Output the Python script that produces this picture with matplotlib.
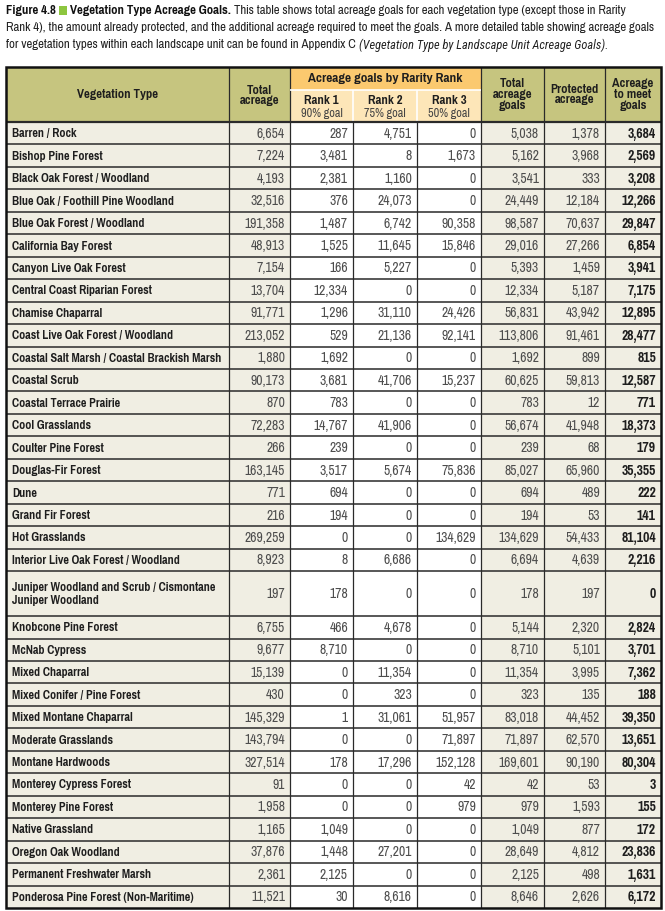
import matplotlib
matplotlib.use("Agg")
import matplotlib.pyplot as plt
from matplotlib import font_manager
from matplotlib.patches import Rectangle

# ---------------- data ----------------
veg_types = [
    "Barren / Rock", "Bishop Pine Forest", "Black Oak Forest / Woodland",
    "Blue Oak / Foothill Pine Woodland", "Blue Oak Forest / Woodland",
    "California Bay Forest", "Canyon Live Oak Forest", "Central Coast Riparian Forest",
    "Chamise Chaparral", "Coast Live Oak Forest / Woodland",
    "Coastal Salt Marsh / Coastal Brackish Marsh", "Coastal Scrub",
    "Coastal Terrace Prairie", "Cool Grasslands", "Coulter Pine Forest",
    "Douglas-Fir Forest", "Dune", "Grand Fir Forest", "Hot Grasslands",
    "Interior Live Oak Forest / Woodland",
    "Juniper Woodland and Scrub / Cismontane\nJuniper Woodland",
    "Knobcone Pine Forest", "McNab Cypress", "Mixed Chaparral",
    "Mixed Conifer / Pine Forest", "Mixed Montane Chaparral", "Moderate Grasslands",
    "Montane Hardwoods", "Monterey Cypress Forest", "Monterey Pine Forest",
    "Native Grassland", "Oregon Oak Woodland", "Permanent Freshwater Marsh",
    "Ponderosa Pine Forest (Non-Maritime)",
]
total_acreage = [6654, 7224, 4193, 32516, 191358, 48913, 7154, 13704, 91771, 213052,
                 1880, 90173, 870, 72283, 266, 163145, 771, 216, 269259, 8923, 197,
                 6755, 9677, 15139, 430, 145329, 143794, 327514, 91, 1958, 1165,
                 37876, 2361, 11521]
rank1 = [287, 3481, 2381, 376, 1487, 1525, 166, 12334, 1296, 529, 1692, 3681, 783,
         14767, 239, 3517, 694, 194, 0, 8, 178, 466, 8710, 0, 0, 1, 0, 178, 0, 0,
         1049, 1448, 2125, 30]
rank2 = [4751, 8, 1160, 24073, 6742, 11645, 5227, 0, 31110, 21136, 0, 41706, 0,
         41906, 0, 5674, 0, 0, 0, 6686, 0, 4678, 0, 11354, 323, 31061, 0, 17296, 0,
         0, 0, 27201, 0, 8616]
rank3 = [0, 1673, 0, 0, 90358, 15846, 0, 0, 24426, 92141, 0, 15237, 0, 0, 0, 75836,
         0, 0, 134629, 0, 0, 0, 0, 0, 0, 51957, 71897, 152128, 42, 979, 0, 0, 0, 0]
total_goals = [5038, 5162, 3541, 24449, 98587, 29016, 5393, 12334, 56831, 113806,
               1692, 60625, 783, 56674, 239, 85027, 694, 194, 134629, 6694, 178,
               5144, 8710, 11354, 323, 83018, 71897, 169601, 42, 979, 1049, 28649,
               2125, 8646]
protected = [1378, 3968, 333, 12184, 70637, 27266, 1459, 5187, 43942, 91461, 899,
             59813, 12, 41948, 68, 65960, 489, 53, 54433, 4639, 197, 2320, 5101,
             3995, 135, 44452, 62570, 90190, 53, 1593, 877, 4812, 498, 2626]
to_meet = [3684, 2569, 3208, 12266, 29847, 6854, 3941, 7175, 12895, 28477, 815,
           12587, 771, 18373, 179, 35355, 222, 141, 81104, 2216, 0, 2824, 3701,
           7362, 188, 39350, 13651, 80304, 3, 155, 172, 23836, 1631, 6172]

title_bold = "Figure 4.8"
title_name = "Vegetation Type Acreage Goals."
caption_lines = [
    "This table shows total acreage goals for each vegetation type (except those in Rarity",
    "Rank 4), the amount already protected, and the additional acreage required to meet the goals. A more detailed table showing acreage goals",
    "for vegetation types within each landscape unit can be found in Appendix C",
]
caption_italic = "(Vegetation Type by Landscape Unit Acreage Goals)."

header_labels = ["Vegetation Type", "Total\nacreage", "Total\nacreage\ngoals",
                 "Protected\nacreage", "Acreage\nto meet\ngoals"]
group_label = "Acreage goals by Rarity Rank"
rank_labels = ["Rank 1", "Rank 2", "Rank 3"]
rank_goals = ["90% goal", "75% goal", "50% goal"]

# ---------------- font choice ----------------
def _w(e):
    w = e.weight
    if isinstance(w, str):
        return 700 if "bold" in w.lower() else 400
    return int(w)

def pick_font(cands, need_italic=False):
    entries = font_manager.fontManager.ttflist
    for cand in cands:
        fam = [e for e in entries if e.name == cand]
        up = [_w(e) for e in fam if e.style == "normal"]
        it = [e for e in fam if e.style == "italic"]
        if need_italic:
            if it and up:
                return cand
        elif any(w >= 650 for w in up) and any(w <= 450 for w in up):
            return cand
    return "Liberation Sans"

FONT = pick_font(["Liberation Sans Narrow", "Pragati Narrow", "PT Sans Narrow",
                  "Roboto Condensed", "Archivo Narrow", "Fira Sans Condensed",
                  "Barlow Semi Condensed", "Asap Condensed", "IBM Plex Sans Condensed"])
ITFONT = pick_font(["Liberation Sans Narrow", "Roboto Condensed", "Archivo Narrow",
                    "Fira Sans Condensed", "Barlow Semi Condensed", "Asap Condensed",
                    "IBM Plex Sans Condensed", "Liberation Sans"], need_italic=True)
plt.rcParams['font.family'] = [FONT, 'DejaVu Sans']

OLIVE = "#c6c57f"
ORANGE = "#fbc96f"
LIGHT_ORANGE = "#fde6b8"
BEIGE = "#f0eee3"
WHITE = "#ffffff"
LINE = "#2a2a2a"
NUM_COLOR = "#4d4d4d"
TXT = "#1e1e1e"

W, H = 665, 911
fig = plt.figure(figsize=(W / 100, H / 100), dpi=100)
ax = fig.add_axes([0, 0, 1, 1])
ax.set_xlim(0, W)
ax.set_ylim(H, 0)
ax.axis("off")
renderer = fig.canvas.get_renderer()

def width_of(s, fs, **kw):
    t = ax.text(0, 0, s, fontsize=fs, **kw)
    w = t.get_window_extent(renderer).width
    t.remove()
    return w

col_x = [6, 229, 290, 353, 417, 481, 544, 605, 661]
top = 67
group_bottom = 90
header_bottom = 122
table_bottom = 908

units = [name.count("\n") + 1 for name in veg_types]
unit_h = (table_bottom - header_bottom) / sum(units)
row_edges = [header_bottom]
for u in units:
    row_edges.append(row_edges[-1] + unit_h * u)

col_bg = [BEIGE, BEIGE, WHITE, WHITE, WHITE, BEIGE, BEIGE, BEIGE]

for c in range(8):
    ax.add_patch(Rectangle((col_x[c], header_bottom), col_x[c + 1] - col_x[c],
                           table_bottom - header_bottom, facecolor=col_bg[c],
                           edgecolor="none", zorder=1))
ax.add_patch(Rectangle((col_x[0], top), col_x[-1] - col_x[0], header_bottom - top,
                       facecolor=OLIVE, edgecolor="none", zorder=1))
ax.add_patch(Rectangle((col_x[2], top), col_x[5] - col_x[2], group_bottom - top,
                       facecolor=ORANGE, edgecolor="none", zorder=1.5))
ax.add_patch(Rectangle((col_x[2], group_bottom), col_x[5] - col_x[2],
                       header_bottom - group_bottom, facecolor=LIGHT_ORANGE,
                       edgecolor="none", zorder=1.5))

for y in row_edges[1:-1]:
    ax.hlines(y, col_x[0], col_x[-1], color=LINE, lw=1.1, zorder=3)
for x in col_x[1:-1]:
    ax.vlines(x, header_bottom, table_bottom, color=LINE, lw=0.9, zorder=3)
for x in [col_x[1], col_x[2], col_x[5], col_x[6], col_x[7]]:
    ax.vlines(x, top, header_bottom, color=LINE, lw=0.9, zorder=3)
for x in [col_x[3], col_x[4]]:
    ax.vlines(x, group_bottom, header_bottom, color=WHITE, lw=1.2, zorder=3)
ax.hlines(group_bottom, col_x[2], col_x[5], color=WHITE, lw=1.2, zorder=3)
ax.hlines(header_bottom, col_x[0], col_x[-1], color=LINE, lw=1.6, zorder=3)
ax.add_patch(Rectangle((col_x[0], top), col_x[-1] - col_x[0], table_bottom - top,
                       facecolor="none", edgecolor="#111111", lw=1.8, zorder=4))

# font sizes fitted to the reference's text widths
widest = max(veg_types, key=lambda s: width_of(s, 10, fontweight="bold"))
BFS = 10 * 210 / width_of(widest, 10, fontweight="bold")
NFS = 10 * 41 / width_of("191,358", 10)
HFS = 10 * 81 / width_of(header_labels[0], 10, fontweight="bold")
GFS = 10 * 155 / width_of(group_label, 10, fontweight="bold")
RFS = 10 * 42 / width_of(rank_goals[0], 10)

def ctr(c):
    return (col_x[c] + col_x[c + 1]) / 2

ax.text(ctr(0), (top + header_bottom) / 2, header_labels[0], ha="center", va="center",
        fontsize=HFS, fontweight="bold", color=TXT, zorder=5)
ax.text(ctr(1), (top + header_bottom) / 2 + 1, header_labels[1], ha="center", va="center",
        fontsize=HFS, fontweight="bold", color=TXT, linespacing=1.0, zorder=5)
for c, lab in zip([5, 6, 7], header_labels[2:]):
    ax.text(ctr(c), (top + header_bottom) / 2, lab, ha="center", va="center",
            fontsize=HFS, fontweight="bold", color=TXT, linespacing=0.95, zorder=5)
ax.text((col_x[2] + col_x[5]) / 2, (top + group_bottom) / 2 + 0.5, group_label,
        ha="center", va="center", fontsize=GFS, fontweight="bold", color=TXT, zorder=5)
for i in range(3):
    ax.text(ctr(2 + i), group_bottom + 10, rank_labels[i], ha="center", va="center",
            fontsize=HFS, fontweight="bold", color=TXT, zorder=5)
    ax.text(ctr(2 + i), group_bottom + 23.5, rank_goals[i], ha="center", va="center",
            fontsize=RFS, color="#444444", zorder=5)

columns = [total_acreage, rank1, rank2, rank3, total_goals, protected, to_meet]
for r, name in enumerate(veg_types):
    yc = (row_edges[r] + row_edges[r + 1]) / 2 + 0.5
    ax.text(col_x[0] + 6, yc, name, ha="left", va="center", fontsize=BFS,
            fontweight="bold", color=TXT, linespacing=1.25, zorder=5)
    for j, vals in enumerate(columns):
        c = j + 1
        bold = (j == 6)
        ax.text(col_x[c + 1] - 5, yc, f"{vals[r]:,}", ha="right", va="center",
                fontsize=NFS, fontweight="bold" if bold else "normal",
                color=TXT if bold else NUM_COLOR, zorder=5)

# ---------------- title / caption ----------------
TFS = 10 * (col_x[-1] - col_x[0] - 4) / width_of(caption_lines[1], 10)
sp = width_of("x x", TFS) - width_of("xx", TFS)

line_y = [10, 27.5, 45]
x = col_x[0]
t = ax.text(x, line_y[0], title_bold, fontsize=TFS, fontweight="bold", va="center", color="#111111")
x += t.get_window_extent(renderer).width + sp
sq = 8.5
ax.add_patch(Rectangle((x, line_y[0] - sq / 2 + 0.5), sq, sq, facecolor="#8dc63f", edgecolor="none"))
x += sq + sp
t = ax.text(x, line_y[0], title_name, fontsize=TFS, fontweight="bold", va="center", color="#111111")
x += t.get_window_extent(renderer).width + sp
ax.text(x, line_y[0], caption_lines[0], fontsize=TFS, va="center", color="#222222")
ax.text(col_x[0], line_y[1], caption_lines[1], fontsize=TFS, va="center", color="#222222")
t = ax.text(col_x[0], line_y[2], caption_lines[2], fontsize=TFS, va="center", color="#222222")
x = col_x[0] + t.get_window_extent(renderer).width + sp
ifs = TFS * width_of(caption_italic, 10) / width_of(caption_italic, 10, family=[ITFONT, "DejaVu Sans"], style="italic")
ax.text(x, line_y[2], caption_italic, fontsize=ifs, style="italic",
        family=[ITFONT, "DejaVu Sans"], va="center", color="#222222")

fig.savefig("out.png", dpi=100)
